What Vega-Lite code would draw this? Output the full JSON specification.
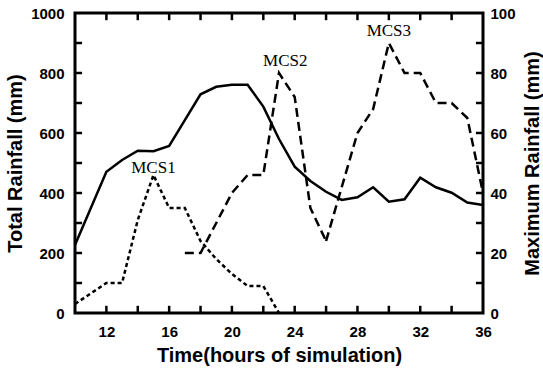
{
  "$schema": "https://vega.github.io/schema/vega-lite/v6.json",
  "width": 408,
  "height": 300,
  "autosize": "none",
  "padding": {"left": 75, "top": 13, "right": 60, "bottom": 58},
  "background": "white",
  "view": {"stroke": "black", "strokeWidth": 3},
  "config": {
    "font": "Liberation Sans",
    "axis": {"labelFont": "Liberation Sans", "labelFontWeight": "bold", "labelFontSize": 15, "labelColor": "black", "titleFont": "Liberation Sans", "titleFontSize": 20, "titleFontWeight": "bold", "titleColor": "black", "domain": false, "ticks": false, "grid": false}
  },
  "datasets": {
    "total": [
      {"hour": 10, "value": 227}, {"hour": 12, "value": 471}, {"hour": 13, "value": 510},
      {"hour": 14, "value": 541}, {"hour": 15, "value": 539}, {"hour": 16, "value": 557},
      {"hour": 17, "value": 643}, {"hour": 18, "value": 729}, {"hour": 19, "value": 754},
      {"hour": 20, "value": 761}, {"hour": 21, "value": 761}, {"hour": 22, "value": 688},
      {"hour": 23, "value": 580}, {"hour": 24, "value": 488}, {"hour": 25, "value": 440},
      {"hour": 26, "value": 404}, {"hour": 27, "value": 377}, {"hour": 28, "value": 386},
      {"hour": 29, "value": 419}, {"hour": 30, "value": 371}, {"hour": 31, "value": 379},
      {"hour": 32, "value": 451}, {"hour": 33, "value": 419}, {"hour": 34, "value": 401},
      {"hour": 35, "value": 368}, {"hour": 36, "value": 360}
    ],
    "maxr": [
      {"series": "MCS1", "hour": 10, "value": 3}, {"series": "MCS1", "hour": 12, "value": 10},
      {"series": "MCS1", "hour": 13, "value": 10}, {"series": "MCS1", "hour": 14, "value": 31},
      {"series": "MCS1", "hour": 15, "value": 46}, {"series": "MCS1", "hour": 16, "value": 35},
      {"series": "MCS1", "hour": 17, "value": 35}, {"series": "MCS1", "hour": 18, "value": 24},
      {"series": "MCS1", "hour": 19, "value": 18}, {"series": "MCS1", "hour": 20, "value": 13},
      {"series": "MCS1", "hour": 21, "value": 9}, {"series": "MCS1", "hour": 22, "value": 9},
      {"series": "MCS1", "hour": 23, "value": 0},
      {"series": "MCS2", "hour": 17, "value": 20}, {"series": "MCS2", "hour": 18, "value": 20},
      {"series": "MCS2", "hour": 19, "value": 30}, {"series": "MCS2", "hour": 20, "value": 40},
      {"series": "MCS2", "hour": 21, "value": 46}, {"series": "MCS2", "hour": 22, "value": 46},
      {"series": "MCS2", "hour": 23, "value": 80}, {"series": "MCS2", "hour": 24, "value": 72},
      {"series": "MCS2", "hour": 25, "value": 35}, {"series": "MCS2", "hour": 26, "value": 24},
      {"series": "MCS3", "hour": 26, "value": 24}, {"series": "MCS3", "hour": 27, "value": 42},
      {"series": "MCS3", "hour": 28, "value": 60}, {"series": "MCS3", "hour": 29, "value": 68},
      {"series": "MCS3", "hour": 30, "value": 90}, {"series": "MCS3", "hour": 31, "value": 80},
      {"series": "MCS3", "hour": 32, "value": 80}, {"series": "MCS3", "hour": 33, "value": 70},
      {"series": "MCS3", "hour": 34, "value": 70}, {"series": "MCS3", "hour": 35, "value": 65},
      {"series": "MCS3", "hour": 36, "value": 40}
    ],
    "labels": [
      {"label": "MCS1", "hour": 15, "value": 48.5},
      {"label": "MCS2", "hour": 23.4, "value": 84},
      {"label": "MCS3", "hour": 30, "value": 94}
    ],
    "xticks": [
      {"hour": 12}, {"hour": 14}, {"hour": 16}, {"hour": 18}, {"hour": 20}, {"hour": 22},
      {"hour": 24}, {"hour": 26}, {"hour": 28}, {"hour": 30}, {"hour": 32}, {"hour": 34}
    ],
    "yticks": [
      {"value": 100}, {"value": 200}, {"value": 300}, {"value": 400}, {"value": 500},
      {"value": 600}, {"value": 700}, {"value": 800}, {"value": 900}
    ]
  },
  "layer": [
    {
      "data": {"name": "total"},
      "mark": {"type": "line", "color": "black", "strokeWidth": 2.5, "clip": true},
      "encoding": {
        "x": {"field": "hour", "type": "quantitative", "scale": {"domain": [10, 36], "nice": false, "zero": false},
              "axis": {"orient": "bottom", "title": "Time(hours of simulation)", "values": [12,16,20,24,28,32,36],
                       "labelPadding": 11, "titlePadding": 6, "labelFlush": false}},
        "y": {"field": "value", "type": "quantitative", "scale": {"domain": [0, 1000], "nice": false},
              "axis": {"orient": "left", "title": "Total Rainfall (mm)", "values": [0,200,400,600,800,1000],
                       "format": "d", "labelPadding": 11, "titlePadding": 5, "labelFlush": false}}
      }
    },
    {
      "data": {"name": "maxr"},
      "mark": {"type": "line", "color": "black", "strokeWidth": 2.5, "clip": true},
      "encoding": {
        "x": {"field": "hour", "type": "quantitative", "scale": {"domain": [10, 36], "nice": false, "zero": false}, "axis": null},
        "y": {"field": "value", "type": "quantitative", "scale": {"domain": [0, 100], "nice": false},
              "axis": {"orient": "right", "title": "Maximum Rainfall (mm)", "titleAngle": 270, "values": [0,20,40,60,80,100],
                       "labelPadding": 7, "titlePadding": 27, "labelFlush": false}},
        "detail": {"field": "series"},
        "strokeDash": {"field": "series", "type": "nominal", "scale": {"domain": ["MCS1", "MCS2", "MCS3"], "range": [[4, 3], [9, 5], [9, 5]]}, "legend": null}
      }
    },
    {
      "data": {"name": "labels"},
      "mark": {"type": "text", "font": "Liberation Serif", "fontSize": 17, "color": "black", "baseline": "middle", "align": "center"},
      "encoding": {
        "x": {"field": "hour", "type": "quantitative", "scale": {"domain": [10, 36], "nice": false, "zero": false}, "axis": null},
        "y": {"field": "value", "type": "quantitative", "scale": {"domain": [0, 100], "nice": false}, "axis": null},
        "text": {"field": "label"}
      }
    },
    {
      "data": {"name": "xticks"},
      "mark": {"type": "rule", "color": "black", "strokeWidth": 2.5},
      "encoding": {"x": {"field": "hour", "type": "quantitative", "scale": {"domain": [10, 36], "nice": false, "zero": false}, "axis": null},
                   "y": {"datum": 0, "type": "quantitative", "scale": {"domain": [0, 1000], "nice": false}, "axis": null},
                   "y2": {"datum": 24}}
    },
    {
      "data": {"name": "xticks"},
      "mark": {"type": "rule", "color": "black", "strokeWidth": 2.5},
      "encoding": {"x": {"field": "hour", "type": "quantitative", "scale": {"domain": [10, 36], "nice": false, "zero": false}, "axis": null},
                   "y": {"datum": 1000, "type": "quantitative", "scale": {"domain": [0, 1000], "nice": false}, "axis": null},
                   "y2": {"datum": 976}}
    },
    {
      "data": {"name": "yticks"},
      "mark": {"type": "rule", "color": "black", "strokeWidth": 2.5},
      "encoding": {"x": {"datum": 10, "type": "quantitative", "scale": {"domain": [10, 36], "nice": false, "zero": false}, "axis": null},
                   "x2": {"datum": 10.45},
                   "y": {"field": "value", "type": "quantitative", "scale": {"domain": [0, 1000], "nice": false}, "axis": null}}
    },
    {
      "data": {"name": "yticks"},
      "mark": {"type": "rule", "color": "black", "strokeWidth": 2.5},
      "encoding": {"x": {"datum": 36, "type": "quantitative", "scale": {"domain": [10, 36], "nice": false, "zero": false}, "axis": null},
                   "x2": {"datum": 35.55},
                   "y": {"field": "value", "type": "quantitative", "scale": {"domain": [0, 1000], "nice": false}, "axis": null}}
    }
  ],
  "resolve": {"scale": {"y": "independent"}, "axis": {"x": "independent", "y": "independent"}}
}
